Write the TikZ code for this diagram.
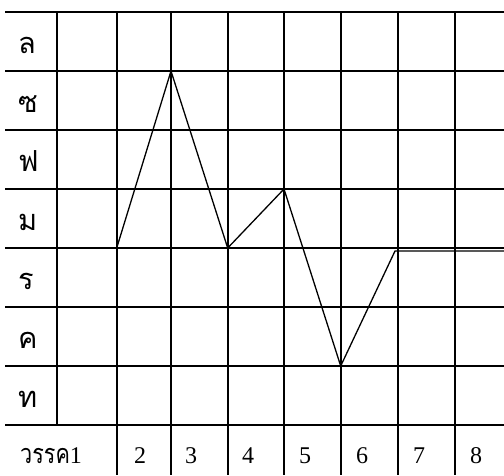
\documentclass[tikz,border=0pt]{standalone}
\usepackage{fontspec}
\setmainfont{Liberation Serif}
\newfontfamily\thaifont[Script=Thai]{Loma}
\newfontfamily\thaicond[Script=Thai,FakeStretch=0.8]{Loma}
\begin{document}
\begin{tikzpicture}[x=1pt,y=-1pt,
  gridline/.style={line width=2.2pt},
  melody/.style={line width=1.3pt,line join=miter},
  lbl/.style={anchor=base west,inner sep=0pt,text depth=0pt,font=\fontsize{24}{28}\selectfont},
  thl/.style={anchor=base west,inner sep=0pt,text depth=0pt,font=\fontsize{29}{32}\selectfont\thaifont}]
\useasboundingbox (0,0) rectangle (504,475);
% horizontal lines
\foreach \y in {12,71,130,189,248,307,366,425}
  \draw[gridline] (5,\y) -- (504,\y);
% vertical lines
\draw[gridline] (56.7,12) -- (56.7,425);
\foreach \x in {116.7,171,227.7,284,340.7,397.7,454.7}
  \draw[gridline] (\x,12) -- (\x,475);
% row labels
\node[thl] (la) at (18,53) {ล};
\node[thl] (so) at (18,112) {ซ};
\node[thl] (fa) at (18,171) {ฟ};
\node[thl] (mi) at (18,230) {ม};
\node[thl] (re) at (18,289) {ร};
\node[thl] (kh) at (18,348) {ค};
\node[thl] (ti) at (18,407) {ท};
% bar labels
\node[lbl] (b1) at (20,463) {{\fontsize{27}{30}\selectfont\thaicond วรรค}1};
\node[lbl] (b2) at (134,463) {2};
\node[lbl] (b3) at (185,463) {3};
\node[lbl] (b4) at (242,463) {4};
\node[lbl] (b5) at (299,463) {5};
\node[lbl] (b6) at (356,463) {6};
\node[lbl] (b7) at (413,463) {7};
\node[lbl] (b8) at (470,463) {8};
% melody
\coordinate (p1) at (116.7,248);
\coordinate (p2) at (171,71);
\coordinate (p3) at (227.7,248);
\coordinate (p4) at (284,189);
\coordinate (p5) at (340.7,366);
\coordinate (p6) at (395,251);
\coordinate (p7) at (504,251);
\draw[melody] (p1) -- (p2) -- (p3) -- (p4) -- (p5) -- (p6) -- (p7);
\end{tikzpicture}
\end{document}
